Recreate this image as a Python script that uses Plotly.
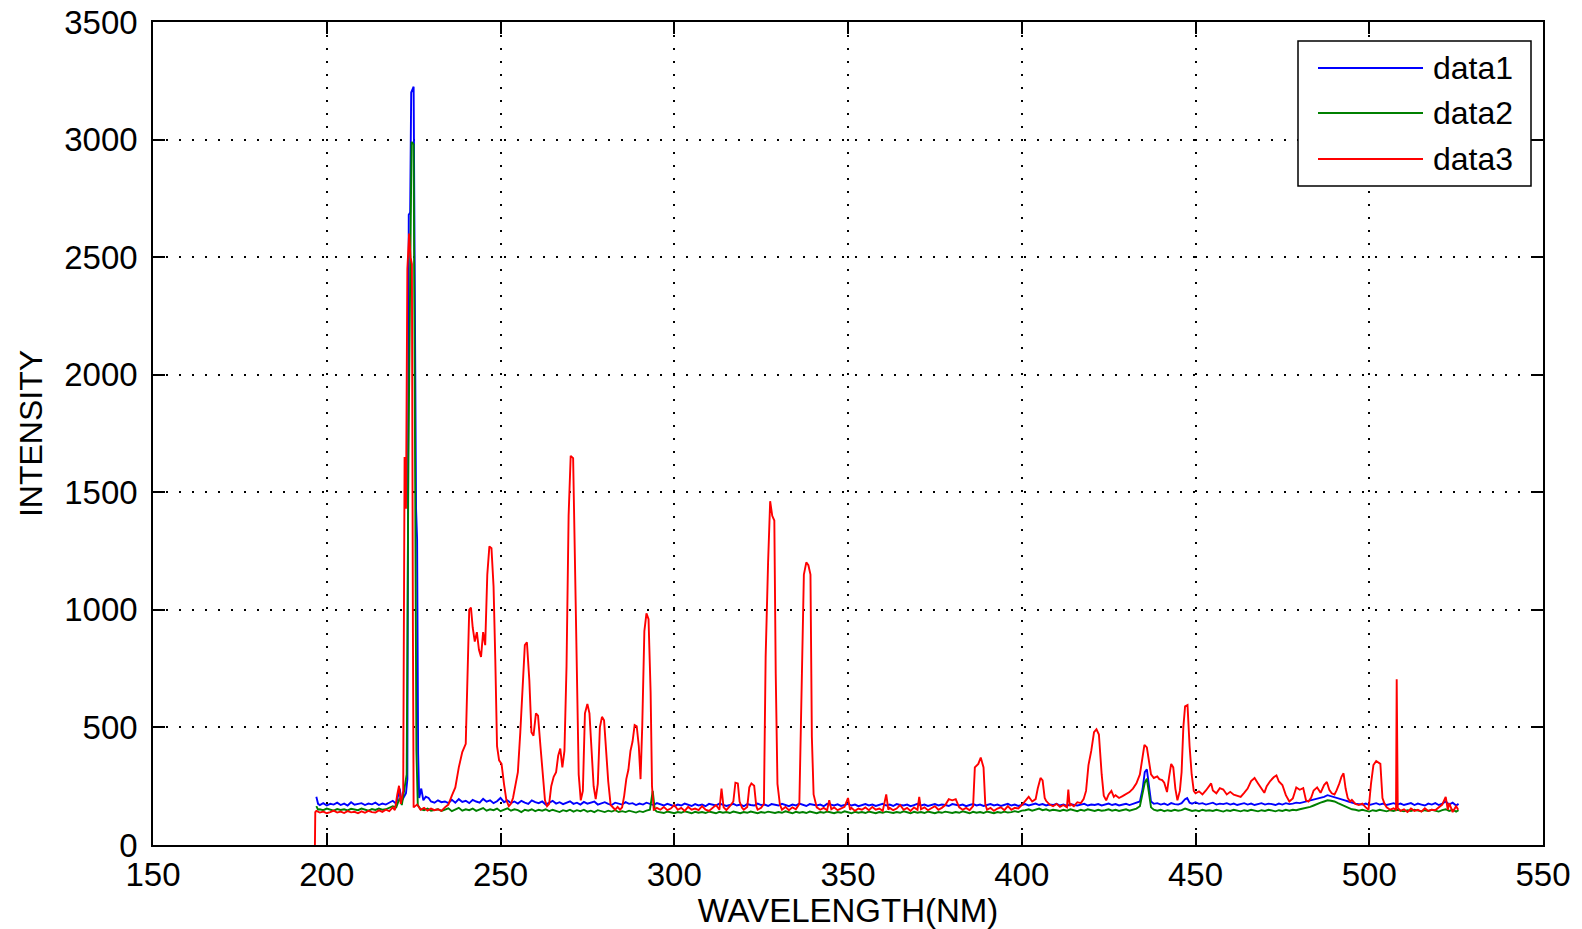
import plotly.graph_objects as go

# ---------------- data ----------------
DATA1_POINTS = [  # (wavelength nm, intensity)
    (197, 205), (197.5, 175), (198, 170), (199, 178), (200, 168), (201, 175), (202, 172), (203, 180), (204, 170),
    (205, 176), (206, 168), (207, 182), (208, 171), (209, 175), (210, 178), (211, 170), (212, 176), (213, 173),
    (214, 180), (215, 170), (216, 176), (217, 172), (218, 180), (219, 188), (220, 175), (221, 240), (221.5, 185),
    (222, 200), (222.8, 220), (223.2, 280), (223.6, 2680), (224.0, 2690), (224.3, 3200), (225.0, 3225),
    (225.3, 2460), (225.7, 1430), (226.0, 1300), (226.3, 390), (226.6, 200), (227.2, 240), (227.8, 190),
    (228.5, 205), (229.3, 200), (230, 185), (231, 180),
    (232, 190), (233, 182), (234, 185), (235, 178), (236, 192), (237, 180), (238, 195), (239, 183), (240, 188),
    (241, 178), (242, 192), (243, 185), (244, 180), (245, 196), (246, 184), (247, 190), (248, 178), (249, 186),
    (250, 200), (251, 182), (252, 190), (253, 178), (254, 185), (255, 176), (256, 188), (257, 180), (258, 175),
    (259, 190), (260, 182), (261, 178), (262, 185), (263, 172), (264, 180), (265, 188), (266, 176), (267, 182),
    (268, 174), (269, 180), (270, 186), (271, 175), (272, 180), (273, 172), (274, 183), (275, 176), (276, 180),
    (277, 185), (278, 172), (279, 178), (280, 182), (281, 175), (282, 170), (283, 180), (284, 176), (285, 172),
    (286, 182), (287, 175), (288, 178), (289, 170), (290, 176), (291, 172), (292, 180), (293, 174), (294, 170),
    (295, 178), (296, 172),
    (297, 168), (298, 175), (299, 170), (300, 165), (301, 172), (302, 168), (303, 176), (304, 170), (305, 166),
    (306, 174), (307, 168), (308, 172), (309, 165), (310, 175), (311, 170), (312, 168), (313, 176), (314, 172),
    (315, 166), (316, 170), (317, 175), (318, 168), (319, 172), (320, 165), (321, 174), (322, 170), (323, 168),
    (324, 176), (325, 170), (326, 172), (327, 166), (328, 174), (329, 170), (330, 168), (331, 175), (332, 170),
    (333, 165), (334, 172), (335, 168), (336, 176), (337, 170), (338, 166), (339, 174), (340, 170), (341, 168),
    (342, 172), (343, 165), (344, 175), (345, 170), (346, 168), (347, 173), (348, 166), (349, 170), (350, 175),
    (351, 168), (352, 172), (353, 165), (354, 170), (355, 174), (356, 168), (357, 172), (358, 166), (359, 170),
    (360, 175), (361, 168), (362, 172), (363, 166), (364, 174), (365, 170), (366, 168), (367, 172), (368, 165),
    (369, 170), (370, 175), (371, 168), (372, 172), (373, 166), (374, 170), (375, 174), (376, 168), (377, 172),
    (378, 170), (379, 166), (380, 174), (381, 170), (382, 168), (383, 172), (384, 165), (385, 170), (386, 174),
    (387, 168), (388, 172), (389, 166), (390, 170), (391, 174), (392, 168), (393, 172), (394, 166), (395, 170),
    (396, 175), (397, 168), (398, 172), (399, 166), (400, 170),
    (401, 174), (402, 168), (403, 172), (404, 176), (405, 170), (406, 174), (407, 168), (408, 172), (409, 170),
    (410, 175), (411, 168), (412, 172), (413, 166), (414, 174), (415, 170), (416, 168), (417, 172), (418, 175),
    (419, 168), (420, 172), (421, 170), (422, 174), (423, 168), (424, 172), (425, 176), (426, 170), (427, 174),
    (428, 168), (429, 172), (430, 175), (431, 170), (432, 174), (433, 178), (434, 185), (434.8, 240),
    (435.4, 310), (436, 322), (436.6, 260), (437.2, 185), (438, 175),
    (439, 178), (440, 172), (441, 176), (442, 170), (443, 178), (444, 174), (445, 172), (446, 178), (447, 195),
    (447.6, 200), (448.3, 180), (449, 176), (450, 182), (451, 175), (452, 178), (453, 172), (454, 176), (455, 180),
    (456, 172), (457, 176), (458, 174), (459, 178), (460, 172), (461, 176), (462, 170), (463, 174), (464, 178),
    (465, 172), (466, 176), (467, 170), (468, 174), (469, 178), (470, 172), (471, 176), (472, 174), (473, 170),
    (474, 176), (475, 172), (476, 178), (477, 174), (478, 176), (479, 180), (480, 178),
    (481, 182), (482, 185), (483, 188), (484, 192), (485, 196), (486, 200), (487, 205), (488, 212), (489, 208),
    (490, 205), (491, 200), (492, 195), (493, 190), (494, 185), (495, 180), (496, 176),
    (497, 174), (498, 172), (499, 176), (500, 170), (501, 174), (502, 178), (503, 172), (504, 176), (505, 170),
    (506, 174), (507, 178), (508, 172), (509, 176), (510, 170), (511, 174), (512, 178), (513, 170), (514, 176),
    (515, 172), (516, 168), (517, 176), (518, 172), (519, 178), (520, 170), (521, 176), (522, 185), (523, 172),
    (524, 180), (525, 168), (525.7, 175),
]

DATA2_POINTS = [
    (197, 165), (197.5, 150), (198, 152), (199, 148), (200, 155), (201, 150), (202, 146), (203, 153), (204, 149),
    (205, 152), (206, 147), (207, 154), (208, 150), (209, 148), (210, 155), (211, 150), (212, 146), (213, 153),
    (214, 149), (215, 155), (216, 150), (217, 152), (218, 158), (219, 165), (220, 160), (221, 200), (221.6, 170),
    (222.2, 230), (223.0, 300), (223.5, 1650), (224.0, 2620), (224.4, 2990), (225.0, 2980), (225.4, 1620),
    (225.8, 400), (226.2, 170), (227, 152), (228, 148), (229, 155), (230, 146), (231, 150),
    (232, 152), (233, 145), (234, 150), (235, 156), (236, 144), (237, 150), (238, 158), (239, 146), (240, 152),
    (241, 148), (242, 155), (243, 145), (244, 150), (245, 157), (246, 146), (247, 152), (248, 148), (249, 155),
    (250, 144), (251, 150), (252, 156), (253, 146), (254, 152), (255, 148), (256, 140), (257, 150), (258, 146),
    (259, 152), (260, 144), (261, 150), (262, 146), (263, 152), (264, 144), (265, 150), (266, 146), (267, 140),
    (268, 148), (269, 144), (270, 150), (271, 142), (272, 148), (273, 144), (274, 150), (275, 142), (276, 146),
    (277, 140), (278, 148), (279, 144), (280, 140), (281, 146), (282, 142), (283, 148), (284, 140), (285, 144),
    (286, 140), (287, 146), (288, 142), (289, 138), (290, 144), (291, 140), (292, 146), (293, 150), (293.8, 230),
    (294.4, 150), (295, 142),
    (296, 140), (297, 136), (298, 142), (299, 138), (300, 135), (301, 140), (302, 137), (303, 143), (304, 138),
    (305, 135), (306, 141), (307, 137), (308, 140), (309, 136), (310, 142), (311, 138), (312, 135), (313, 141),
    (314, 137), (315, 140), (316, 136), (317, 142), (318, 138), (319, 135), (320, 140), (321, 137), (322, 142),
    (323, 138), (324, 135), (325, 140), (326, 137), (327, 142), (328, 138), (329, 136), (330, 140), (331, 137),
    (332, 143), (333, 138), (334, 135), (335, 141), (336, 137), (337, 140), (338, 136), (339, 142), (340, 138),
    (341, 135), (342, 140), (343, 137), (344, 142), (345, 138), (346, 135), (347, 140), (348, 137), (349, 143),
    (350, 138), (351, 135), (352, 141), (353, 137), (354, 140), (355, 136), (356, 142), (357, 138), (358, 135),
    (359, 140), (360, 137), (361, 142), (362, 138), (363, 136), (364, 140), (365, 137), (366, 143), (367, 138),
    (368, 135), (369, 141), (370, 137), (371, 140), (372, 136), (373, 142), (374, 138), (375, 135), (376, 140),
    (377, 137), (378, 142), (379, 138), (380, 136), (381, 140), (382, 137), (383, 143), (384, 138), (385, 135),
    (386, 141), (387, 137), (388, 140), (389, 136), (390, 142), (391, 138), (392, 135), (393, 140), (394, 137),
    (395, 142), (396, 138), (397, 140), (398, 144), (399, 140), (400, 146),
    (401, 148), (402, 152), (403, 146), (404, 150), (405, 155), (406, 148), (407, 152), (408, 146), (409, 150),
    (410, 148), (411, 145), (412, 150), (413, 146), (414, 152), (415, 148), (416, 144), (417, 150), (418, 146),
    (419, 152), (420, 148), (421, 145), (422, 150), (423, 146), (424, 148), (425, 152), (426, 146), (427, 150),
    (428, 145), (429, 148), (430, 152), (431, 146), (432, 150), (433, 155), (434, 165), (434.8, 215),
    (435.4, 265), (436, 282), (436.6, 225), (437.2, 160), (438, 150),
    (439, 146), (440, 150), (441, 144), (442, 148), (443, 145), (444, 150), (445, 146), (446, 148), (447, 155),
    (448, 150), (449, 145), (450, 148), (451, 144), (452, 150), (453, 146), (454, 148), (455, 145), (456, 150),
    (457, 146), (458, 142), (459, 148), (460, 145), (461, 150), (462, 146), (463, 143), (464, 148), (465, 145),
    (466, 150), (467, 146), (468, 143), (469, 148), (470, 145), (471, 150), (472, 146), (473, 143), (474, 148),
    (475, 145), (476, 150), (477, 146), (478, 150), (479, 148), (480, 152), (481, 155), (482, 158),
    (483, 162), (484, 168), (485, 175), (486, 180), (487, 185), (488, 190), (489, 188), (490, 185), (491, 178),
    (492, 172), (493, 165), (494, 158), (495, 152), (496, 150),
    (497, 146), (498, 150), (499, 145), (500, 142), (501, 148), (502, 145), (503, 150), (504, 146), (505, 143),
    (506, 148), (507, 145), (508, 150), (509, 146), (510, 143), (511, 148), (512, 145), (513, 150), (514, 146),
    (515, 143), (516, 148), (517, 145), (518, 150), (519, 146), (520, 142), (521, 148), (522, 152), (523, 145),
    (524, 150), (525, 142), (525.7, 148),
]

DATA3_POINTS = [
    (196.6, 0), (196.7, 140), (197, 145), (198, 138), (199, 142), (200, 135), (201, 140), (202, 146), (203, 138),
    (204, 142), (205, 136), (206, 144), (207, 139), (208, 141), (209, 135), (210, 143), (211, 137), (212, 145),
    (213, 140), (214, 138), (215, 147), (216, 141), (217, 150), (218, 144), (219, 160), (219.6, 148),
    (220.3, 215), (220.8, 252), (221.3, 175), (222.0, 230), (222.4, 1650), (222.8, 1430), (223.2, 2450),
    (223.7, 2600), (224.1, 2500), (224.5, 2470), (224.8, 900), (225.0, 160),
    (226, 172), (227, 150), (228, 158), (229, 146), (230, 155), (231, 148), (232, 152), (233, 145), (234, 160),
    (235, 172), (236, 210), (237, 245), (238, 330), (239, 395), (240, 430), (240.5, 700), (241, 1000),
    (241.5, 1010), (242, 925), (242.6, 865), (243.2, 905), (243.8, 830), (244.4, 800), (245, 905), (245.6, 850),
    (246.2, 1150), (246.8, 1270), (247.4, 1262), (248, 1100), (248.5, 790), (249, 420), (249.6, 360),
    (250.3, 345), (251, 260), (251.7, 190), (252.4, 165), (253, 175), (253.6, 200), (254.3, 250), (255, 310),
    (255.7, 480), (256.4, 700), (257, 850), (257.6, 862), (258.3, 700), (258.9, 480), (259.5, 465),
    (260.2, 560), (260.8, 550), (261.5, 420), (262.2, 300), (262.8, 190), (263.4, 165), (264, 175),
    (264.6, 250), (265.3, 290), (266, 310), (266.6, 380), (267.2, 410), (267.8, 330), (268.4, 400),
    (269, 760), (269.6, 1400), (270.2, 1655), (270.9, 1645), (271.5, 1200), (272, 800), (272.5, 300),
    (273.1, 190), (273.7, 230), (274.3, 560), (275, 600), (275.6, 560), (276.2, 390), (276.8, 250),
    (277.4, 195), (278, 260), (278.6, 500), (279.2, 545), (279.8, 530), (280.4, 400), (281, 270),
    (281.7, 170), (282.4, 158), (283, 150), (283.7, 162), (284.4, 150), (285, 160), (285.6, 210),
    (286.2, 280), (286.8, 320), (287.4, 400), (288, 440), (288.6, 510), (289.2, 505), (289.8, 420),
    (290.3, 280), (290.8, 510), (291.4, 910), (292, 985), (292.6, 960), (293.2, 650), (293.6, 250),
    (294.1, 150), (295, 158),
    (296, 150), (297, 162), (298, 148), (299, 155), (300, 170), (301, 150), (302, 158), (303, 145), (304, 162),
    (305, 150), (306, 155), (307, 148), (308, 165), (309, 150), (310, 145), (311, 158), (312, 170), (313, 150),
    (313.6, 240), (314.2, 160), (315, 148), (316, 165), (317, 185), (317.6, 265), (318.3, 262), (318.8, 185),
    (319.5, 158), (320, 150), (321, 162), (321.6, 245), (322.2, 262), (323, 252), (323.6, 165), (324, 150),
    (325, 158), (325.8, 175), (326.3, 800), (327, 1200), (327.6, 1462), (328.2, 1400), (328.8, 1380),
    (329.2, 730), (329.7, 260), (330.4, 172), (331, 150), (332, 162), (333, 148), (334, 160), (335, 152),
    (336, 175), (336.6, 640), (337.3, 1150), (338, 1202), (338.6, 1190), (339.2, 1150), (339.6, 460),
    (340.1, 215), (341, 160), (342, 150), (343, 158), (344, 148), (344.6, 190), (345.2, 152), (346, 160),
    (347, 148), (348, 155), (349, 162), (350, 200), (350.6, 150), (351, 158), (352, 145), (353, 155),
    (354, 150), (355, 160), (356, 148), (357, 162), (358, 150), (359, 155), (360, 145), (361, 215),
    (361.6, 150), (362, 158), (363, 148), (364, 155), (365, 170), (366, 150), (367, 158), (368, 145),
    (369, 160), (370, 150), (370.5, 205), (371, 152), (372, 160), (373, 148), (374, 155), (375, 165),
    (376, 150), (377, 158), (378, 170), (379, 195), (380, 190), (381, 195), (382, 160), (383, 150), (384, 158),
    (385, 148), (386, 165), (386.5, 330), (387.5, 345), (388.2, 372), (389, 330), (389.5, 175), (390, 150),
    (391, 158), (392, 145), (393, 155), (394, 160), (395, 148), (396, 165), (397, 150), (398, 158), (399, 155),
    (400, 170), (401, 190), (402, 205), (403, 185), (404, 195), (404.6, 240), (405.4, 285), (406, 275),
    (406.6, 200),
    (407, 188), (408, 172), (409, 165), (410, 175), (411, 162), (412, 170), (413, 160), (413.4, 236),
    (413.8, 165), (414, 175), (415, 165), (416, 182), (417, 178), (417.8, 195), (418.5, 230), (419.2, 340),
    (420, 400), (420.8, 480), (421.5, 492), (422.2, 470), (423, 300), (423.6, 210), (424.3, 190), (425, 215),
    (425.8, 230), (426.5, 205), (427, 212), (428, 200), (429, 208), (430, 215), (431, 225), (432, 240),
    (433, 262), (434, 300), (434.7, 360), (435.3, 426), (436, 415), (436.6, 355), (437.2, 300), (438, 285),
    (439, 292), (439.6, 280), (440.4, 276), (441, 265), (441.8, 225), (442.4, 290), (443, 345), (443.6, 330),
    (444.2, 240), (444.8, 190), (445.5, 230), (446, 310), (446.5, 500), (447, 590), (447.7, 595), (448.3, 420),
    (448.9, 300), (449.5, 230), (450, 220), (451, 228), (452, 215), (453, 232), (454, 250), (454.5, 262),
    (455, 232), (456, 220), (457, 242), (458, 236), (459, 215), (460, 226), (461, 214), (462, 210), (463, 205),
    (464, 222), (465, 240), (466, 272), (467, 285), (468, 262), (469, 240), (469.8, 222), (470.5, 250),
    (471.5, 272), (472.5, 288), (473.3, 296), (474, 270), (475, 255), (476, 212), (477, 185), (478, 198),
    (479, 245), (480, 235), (481, 242), (481.8, 190), (482.5, 185), (483.3, 202), (484, 232), (485, 245),
    (486, 222), (487, 255), (487.8, 268), (488.5, 235), (489.2, 220), (490, 215), (490.6, 232), (491.4, 262),
    (492, 290), (492.6, 305), (493.2, 240), (493.8, 200), (494.5, 185), (495, 192), (496, 175), (497, 170),
    (498, 176), (499, 160), (499.8, 150), (500.5, 260), (501.2, 340), (502, 357), (502.6, 350), (503.2, 345),
    (503.8, 200), (504.4, 175), (505, 160), (506, 150), (507, 156), (507.7, 150), (507.9, 705), (508.2, 158),
    (509, 145), (510, 152), (511, 140), (512, 155), (513, 145), (514, 150), (515, 142), (516, 156), (517, 145),
    (518, 150), (519, 148), (520, 160), (521, 172), (522, 205), (522.6, 150), (523, 178), (524, 140),
    (525, 165), (525.6, 150),
]

SERIES_NAMES = ["data1", "data2", "data3"]
SERIES_COLORS = ["#0000ff", "#008000", "#ff0000"]
X_TICKS = [150, 200, 250, 300, 350, 400, 450, 500, 550]
Y_TICKS = [0, 500, 1000, 1500, 2000, 2500, 3000, 3500]
X_TITLE = "WAVELENGTH(NM)"
Y_TITLE = "INTENSITY"

# ---------------- figure ----------------
W, H = 1582, 929
PL, PR, PT, PB = 153, 1543, 22, 845   # plot area in pixels
FONT = "Liberation Sans, Arial, sans-serif"

fig = go.Figure()
for name, color, pts in zip(SERIES_NAMES, SERIES_COLORS, [DATA1_POINTS, DATA2_POINTS, DATA3_POINTS]):
    fig.add_trace(go.Scatter(
        x=[p[0] for p in pts], y=[p[1] for p in pts], mode="lines", name=name,
        line=dict(color=color, width=1.9), showlegend=False,
    ))


def px2paper_x(px):
    return (px - PL) / (PR - PL)


def px2paper_y(py):
    return (PB - py) / (PB - PT)


# custom MATLAB-style legend
shapes = [dict(type="rect", xref="paper", yref="paper",
               x0=px2paper_x(1298), x1=px2paper_x(1531), y0=px2paper_y(186), y1=px2paper_y(41),
               fillcolor="white", line=dict(color="black", width=1.5), layer="above")]
annotations = []
row_y = [68, 113, 159]
for name, color, ry in zip(SERIES_NAMES, SERIES_COLORS, row_y):
    shapes.append(dict(type="line", xref="paper", yref="paper",
                       x0=px2paper_x(1318), x1=px2paper_x(1423), y0=px2paper_y(ry), y1=px2paper_y(ry),
                       line=dict(color=color, width=1.8), layer="above"))
    annotations.append(dict(xref="paper", yref="paper", x=px2paper_x(1431), y=px2paper_y(ry),
                            xanchor="left", yanchor="middle", text=name, showarrow=False,
                            font=dict(family=FONT, size=32, color="black")))

axis_common = dict(
    showline=True, linecolor="black", linewidth=1.5, mirror="ticks",
    ticks="inside", ticklen=12, tickwidth=1.5, tickcolor="black",
    showgrid=True, gridcolor="black", gridwidth=2, griddash="2px,11px",
    zeroline=False, tickfont=dict(family=FONT, size=33, color="black"),
)

fig.update_layout(
    width=W, height=H,
    margin=dict(l=PL, r=W - PR, t=PT, b=H - PB, autoexpand=False),
    paper_bgcolor="white", plot_bgcolor="white",
    showlegend=False,
    xaxis=dict(range=[150, 550], tickmode="array", tickvals=X_TICKS, ticklabelstandoff=0,
               title=dict(text=X_TITLE, font=dict(family=FONT, size=33, color="black"), standoff=2),
               **axis_common),
    yaxis=dict(range=[0, 3500], tickmode="array", tickvals=Y_TICKS, ticklabelstandoff=7,
               title=dict(text=Y_TITLE, font=dict(family=FONT, size=32, color="black"), standoff=12),
               **axis_common),
    shapes=shapes, annotations=annotations,
)

fig.write_html("out.html")
